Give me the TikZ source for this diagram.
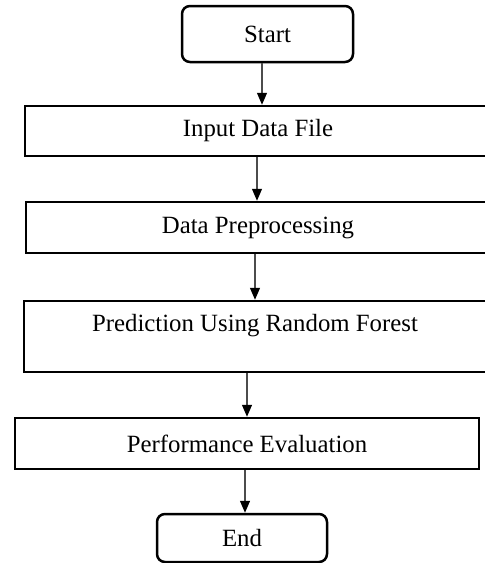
\documentclass[tikz,border=0pt]{standalone}
\usepackage{fontspec}
\setmainfont{Liberation Serif}
\usepackage{tikz}
\usetikzlibrary{arrows.meta, positioning, calc}

\begin{document}
\begin{tikzpicture}[x=0.5pt, y=-0.5pt,
    font=\fontsize{12.4pt}{13.5pt}\selectfont,
    termbox/.style={draw=black, line width=1.25pt, rounded corners=4pt, inner sep=0pt,
                    minimum width=85.5pt, minimum height=28pt},
    procbox/.style={draw=black, line width=1.25pt, inner sep=0pt, align=center,
                    minimum width=232pt, minimum height=25.5pt},
    flow/.style={draw=black!70, line width=0.65pt, -{Triangle[width=5pt, length=6pt, black]}}]

            % cadre de l'image (les boites sont coupees a droite)
            \useasboundingbox (0,0) rectangle (485,563);
            
            % Debut et fin
            \node[termbox] (start) at (267.5,34) {Start};
            \node[termbox, minimum width=85pt, minimum height=24pt] (end) at (242,538) {End};
            
            % Etapes du traitement
            \node[procbox, minimum width=233pt, minimum height=25pt] (input) at (258,131) {Input Data File};
            \node[procbox] (prep) at (258,227.5) {Data Preprocessing};
            \node[procbox, minimum width=231pt, minimum height=35.5pt] (pred) at (255,336.5) {Prediction Using Random Forest\\~};
            \node[procbox] (perf) at (247,443.5) {Performance Evaluation};
            
            % Fleches
            \draw[flow] ([xshift=-2.75pt]start.south) -- ([xshift=-2.75pt]start.south |- input.north);
            \draw[flow] ([xshift=-0.5pt]input.south) -- ([xshift=-0.5pt]input.south |- prep.north);
            \draw[flow] (prep.south -| pred.north) -- (pred.north);
            \draw[flow] (pred.south -| perf.north) -- (perf.north);
            \draw[flow] ([xshift=-1pt]perf.south) -- ([xshift=-1pt]perf.south |- end.north);
            
\end{tikzpicture}
\end{document}
